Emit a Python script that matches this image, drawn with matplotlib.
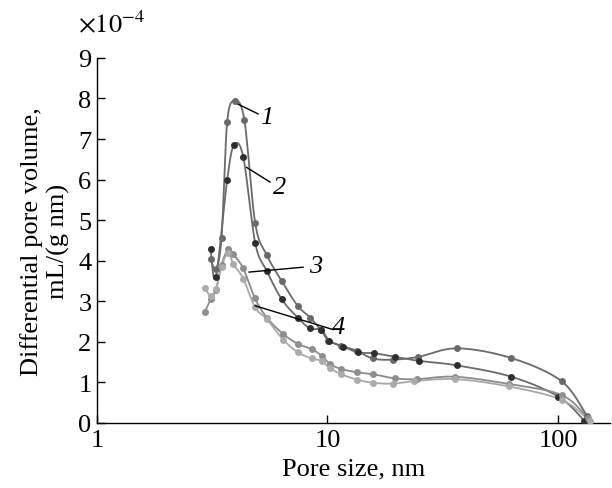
import numpy as np
import matplotlib
matplotlib.use("Agg")
import matplotlib.pyplot as plt

plt.rcParams['font.family'] = ['Liberation Serif', 'DejaVu Serif']
plt.rcParams['mathtext.fontset'] = 'stix'

# pore size (nm) and differential pore volume (x1e-4 mL/(g nm))
x1 = [3.11, 3.28, 3.47, 3.67, 3.97, 4.36, 4.86, 5.45, 6.33, 7.42, 8.40, 9.40,
      10.1, 11.5, 13.4, 15.7, 19.2, 24.8, 36.6, 62.8, 103.6, 134]
y1 = [4.04, 3.80, 4.57, 7.42, 7.94, 7.46, 4.92, 4.14, 3.50, 2.89, 2.60, 2.28,
      2.03, 1.90, 1.78, 1.59, 1.56, 1.63, 1.84, 1.60, 1.03, 0.16]

x2 = [3.11, 3.28, 3.67, 3.93, 4.31, 4.86, 5.45, 6.33, 7.42, 8.40, 9.37,
      10.2, 11.7, 13.6, 15.9, 19.6, 25.0, 36.4, 62.8, 100.4, 130]
y2 = [4.29, 3.60, 5.99, 6.85, 6.56, 4.43, 3.75, 3.05, 2.60, 2.33, 2.30,
      2.03, 1.88, 1.74, 1.72, 1.63, 1.53, 1.42, 1.14, 0.65, 0.06]

x3 = [2.94, 3.11, 3.28, 3.47, 3.71, 3.90, 4.31, 4.85, 5.45, 6.43, 7.45, 8.53,
      9.42, 10.26, 11.5, 13.4, 15.8, 19.6, 24.4, 35.8, 61.3, 103.6, 135]
y3 = [2.74, 3.05, 3.28, 3.90, 4.29, 4.16, 3.81, 3.07, 2.60, 2.19, 1.95, 1.82,
      1.66, 1.45, 1.33, 1.25, 1.20, 1.10, 1.08, 1.14, 0.96, 0.69, 0.12]

x4 = [2.94, 3.11, 3.28, 3.47, 3.71, 3.90, 4.31, 4.85, 5.45, 6.43, 7.45, 8.53,
      9.42, 10.26, 11.5, 13.4, 15.8, 19.3, 23.7, 35.8, 61.3, 103.6, 137]
y4 = [3.32, 3.14, 3.30, 3.85, 4.20, 3.92, 3.56, 2.85, 2.56, 2.05, 1.74, 1.59,
      1.53, 1.35, 1.20, 1.07, 0.99, 0.97, 1.03, 1.08, 0.90, 0.57, 0.06]

series = [
    (x1, y1, '#6a6a6a', '#6a6a6a'),
    (x2, y2, '#6a6a6a', '#2e2e2e'),
    (x3, y3, '#8a8a8a', '#8e8e8e'),
    (x4, y4, '#a8a8a8', '#ababab'),
]


def smooth(xs, ys, n=12):
    # Catmull-Rom through the points, in log-x space
    lx = np.log10(xs)
    ys = np.asarray(ys, float)
    P = np.column_stack([lx, ys])
    P = np.vstack([P[0], P, P[-1]])
    out = []
    t = np.linspace(0, 1, n, endpoint=False)[:, None]
    for i in range(1, len(P) - 2):
        p0, p1, p2, p3 = P[i - 1], P[i], P[i + 1], P[i + 2]
        seg = 0.5 * ((2 * p1) + (-p0 + p2) * t + (2 * p0 - 5 * p1 + 4 * p2 - p3) * t ** 2
                     + (-p0 + 3 * p1 - 3 * p2 + p3) * t ** 3)
        out.append(seg)
    out.append(P[-2][None, :])
    out = np.vstack(out)
    return 10 ** out[:, 0], out[:, 1]


fig = plt.figure(figsize=(6.12, 4.89), dpi=100)
ax = fig.add_axes([0.1585, 0.133, 0.838, 0.7465])

for xs, ys, lc, mc in series:
    sx, sy = smooth(xs, ys)
    ax.plot(sx, np.array(sy) * 1e-4, color=lc, lw=1.3, zorder=2)
    ax.plot(xs, np.array(ys) * 1e-4, 'o', color=mc, ms=5, mec='none', zorder=3)

# curve labels with leader lines
labels = [
    ('1', (4.09, 7.86), (5.0, 7.62), (5.1, 7.55)),
    ('2', (4.46, 6.30), (5.63, 5.94), (5.8, 5.82)),
    ('3', (4.57, 3.72), (7.83, 3.84), (8.3, 3.87)),
    ('4', (4.85, 2.89), (10.6, 2.30), (10.5, 2.36)),
]
for txt, (xa, ya), (xb, yb), (xt, yt) in labels:
    ax.plot([xa, xb], [ya * 1e-4, yb * 1e-4], color='black', lw=1.0, zorder=4)
    ax.text(xt, yt * 1e-4, txt, fontsize=19, style='italic', ha='left', va='center')

ax.set_xscale('log')
ax.set_xlim(1, 10 ** 2.225)
ax.set_ylim(0, 9e-4)
ax.set_xticks([1, 10, 100])
ax.set_xticklabels(['1', '10', '100'])
ax.xaxis.set_minor_locator(matplotlib.ticker.NullLocator())
ax.set_yticks(np.arange(0, 10) * 1e-4)
ax.set_yticklabels([str(i) for i in range(10)])
ax.tick_params(direction='in', length=6, width=1, labelsize=19, pad=4)
for s in ['top', 'right']:
    ax.spines[s].set_visible(False)
for s in ['left', 'bottom']:
    ax.spines[s].set_linewidth(1.0)

ax.set_xlabel('Pore size, nm', fontsize=19, labelpad=5)
ax.set_ylabel('Differential pore volume,\nmL/(g nm)', fontsize=19, labelpad=6,
              linespacing=1.2)
fig.text(0.127, 0.95, r'$\times10^{-4}$', fontsize=19, ha='left', va='center')

fig.savefig('out.png', dpi=100)
